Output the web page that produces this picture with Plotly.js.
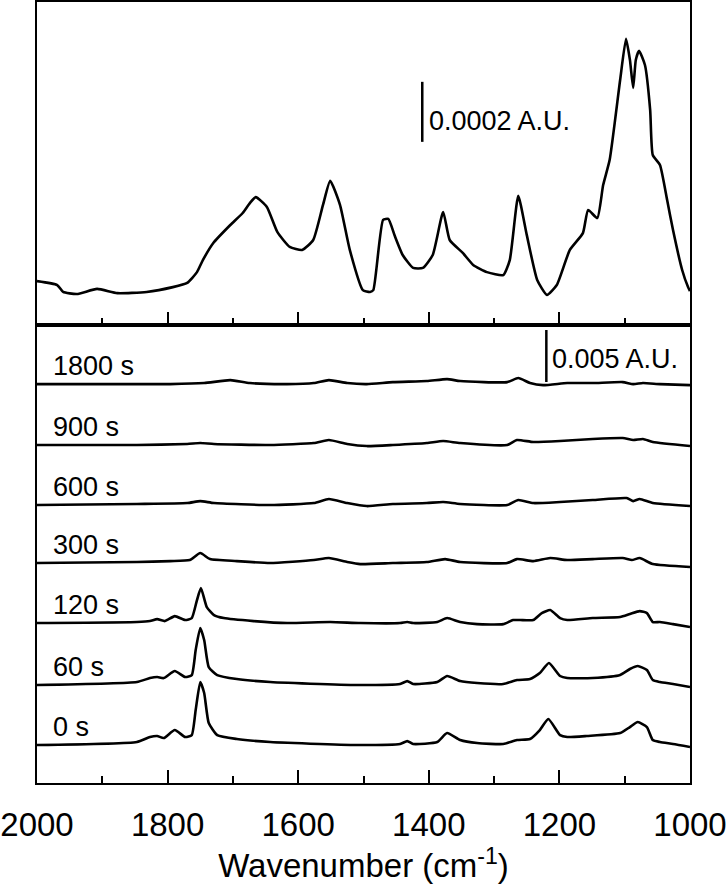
<!DOCTYPE html>
<html>
<head>
<meta charset="utf-8">
<script src="https://cdn.plot.ly/plotly-3.0.1.min.js"></script>
<style>
  html, body { margin: 0; padding: 0; background: #fff; }
  #chart { width: 727px; height: 886px; }
</style>
</head>
<body>
<div id="chart"></div>
<script>
// ---------- Top panel: single spectrum (units of 1e-4 A.U.) ----------
const topWn = [2000,1969,1960,1939,1908,1877,1832,1792,1770,1755,1746,1730,1704,1685,1674,1665,1648,1632,1613,1594,1577,1562,1551,1536,1521,1501,1490,1485,1470,1462,1452,1440,1424,1409,1394,1378,1368,1348,1332,1311,1286,1276,1263,1250,1234,1219,1204,1184,1164,1156,1142,1133,1123,1107,1098,1092,1087,1083,1078,1069,1061,1057,1046,1035,1026,1012,1003,1000];
const topAbs = [0.63,0.50,0.27,0.20,0.37,0.23,0.27,0.43,0.57,0.93,1.33,1.90,2.50,2.90,3.23,3.43,3.10,2.27,1.77,1.67,2.00,3.17,3.97,3.17,1.67,0.33,0.27,0.33,2.67,2.70,2.13,1.50,1.07,1.07,1.50,2.93,2.00,1.57,1.17,0.93,0.83,1.33,3.47,2.17,0.67,0.17,0.50,1.67,2.23,3.00,2.73,3.83,4.67,7.33,8.70,8.00,7.07,8.00,8.30,7.83,6.33,4.83,4.50,3.33,2.33,1.00,0.43,0.30];

// ---------- Bottom panel: time series (units of mA.U., relative to own baseline) ----------
const timeLabels = ["0 s","60 s","120 s","300 s","600 s","900 s","1800 s"];
const offsets = [3.65, 9.42, 15.38, 21.15, 26.73, 32.50, 38.36];

const s0Wn = [2000,1847,1827,1816,1806,1789,1773,1763,1757,1750,1744,1737,1724,1694,1643,1567,1505,1444,1433,1424,1387,1372,1352,1326,1286,1265,1245,1230,1217,1199,1188,1158,1107,1092,1080,1066,1057,1046,1026,1000];
const s0   = [0,0.29,0.77,0.87,0.67,1.44,0.77,0.96,3.37,6.06,5.00,2.12,0.96,0.58,0.29,0.10,0,0.10,0.38,0.10,0.29,1.15,0.48,0.19,0.10,0.48,0.58,1.44,2.50,0.96,0.77,0.87,1.15,1.73,2.21,1.73,0.48,0.29,0.10,-0.19];

const s60Wn = [2000,1847,1827,1816,1806,1789,1773,1763,1757,1750,1744,1737,1724,1694,1643,1567,1505,1444,1433,1424,1387,1372,1352,1326,1286,1265,1245,1230,1216,1199,1188,1149,1107,1092,1080,1066,1057,1046,1026,1000];
const s60   = [0,0.29,0.67,0.77,0.67,1.35,0.77,0.96,3.37,5.48,4.33,1.73,0.96,0.58,0.29,0.10,0,0.10,0.38,0.10,0.29,0.87,0.38,0.19,0.10,0.48,0.58,1.15,2.12,0.87,0.67,0.67,0.96,1.54,1.83,1.44,0.48,0.29,0.10,-0.19];

const s120Wn = [2000,1847,1827,1816,1804,1789,1773,1763,1755,1749,1740,1729,1714,1668,1617,1551,1505,1444,1433,1424,1387,1372,1352,1326,1286,1271,1260,1240,1227,1214,1199,1188,1149,1107,1092,1077,1066,1057,1046,1026,1000];
const s120   = [0,0.10,0.19,0.38,0.19,0.67,0.29,0.48,2.21,3.37,1.54,0.77,0.48,0.19,0,0.10,0,0,0.10,0,0.10,0.48,0.10,-0.10,-0.10,0.29,0.29,0.29,0.96,1.25,0.48,0.29,0.48,0.58,0.87,1.15,0.96,0.10,0.10,-0.10,-0.38];

const s300Wn = [2000,1847,1796,1766,1750,1735,1694,1643,1576,1553,1525,1505,1455,1403,1375,1352,1280,1265,1240,1214,1188,1149,1103,1089,1077,1057,1000];
const s300   = [0,0.10,0.19,0.29,0.96,0.38,0.19,0,0.29,0.48,0.10,-0.10,0,0.10,0.38,0.10,0,0.38,0.19,0.48,0.29,0.38,0.48,0.29,0.48,-0.10,-0.38];

const s600Wn = [2000,1847,1770,1750,1729,1643,1576,1553,1525,1495,1455,1403,1378,1352,1280,1263,1240,1199,1149,1097,1087,1077,1057,1000];
const s600   = [0,0.10,0.19,0.38,0.19,0,0.19,0.58,0.19,-0.10,0.10,0.19,0.29,0.10,0,0.48,0.19,0.29,0.48,0.67,0.38,0.58,0.19,-0.10];

const s900Wn = [2000,1847,1770,1750,1729,1643,1576,1553,1525,1495,1455,1403,1378,1352,1280,1265,1240,1199,1149,1103,1087,1072,1057,1000];
const s900   = [0,0,0.10,0.19,0.10,0,0.19,0.48,0.10,-0.10,0,0.19,0.38,0.19,0,0.48,0.29,0.38,0.58,0.67,0.48,0.58,0.29,-0.10];

const s1800Wn = [2000,1796,1744,1704,1674,1617,1576,1553,1525,1495,1455,1403,1372,1352,1280,1263,1245,1225,1188,1149,1103,1087,1072,1046,1000];
const s1800   = [0,0,0.10,0.38,0.10,0,0.10,0.38,0.10,0,0.19,0.29,0.48,0.29,0.19,0.58,0.10,-0.10,0.10,0.10,0.19,0,0.10,0,-0.10];

const bottomWn  = [s0Wn, s60Wn, s120Wn, s300Wn, s600Wn, s900Wn, s1800Wn];
const bottomAbs = [s0, s60, s120, s300, s600, s900, s1800];

// scale bars
const topBar = {wn: 1410, start: 5.27, len: 2, label: "0.0002 A.U."};
const botBar = {wn: 1220, start: 38.56, len: 5, label: "0.005 A.U."};

const FONT = "Liberation Sans, Arial, sans-serif";
const lineStyle = {color: "#000", width: 2.6, shape: "spline", smoothing: 0.5};

const traces = [];
traces.push({x: topWn, y: topAbs, xaxis: "x", yaxis: "y", mode: "lines", line: lineStyle, hoverinfo: "skip"});
bottomWn.forEach((wn, i) => {
  traces.push({
    x: wn,
    y: bottomAbs[i].map(v => v + offsets[i]),
    xaxis: "x2", yaxis: "y2", mode: "lines", line: lineStyle, hoverinfo: "skip"
  });
});

const annotations = timeLabels.map((t, i) => ({
  x: 1978, y: offsets[i] + 1.7, xref: "x2", yref: "y2",
  text: t, showarrow: false, xanchor: "left", yanchor: "middle",
  font: {family: FONT, size: 27, color: "#000"}
}));
annotations.push({
  x: topBar.wn - 8, y: topBar.start + topBar.len / 2 - 0.3, xref: "x", yref: "y",
  text: topBar.label, showarrow: false, xanchor: "left", yanchor: "middle",
  font: {family: FONT, size: 27, color: "#000"}
});
annotations.push({
  x: botBar.wn - 6, y: botBar.start + botBar.len / 2 - 0.3, xref: "x2", yref: "y2",
  text: botBar.label, showarrow: false, xanchor: "left", yanchor: "middle",
  font: {family: FONT, size: 27, color: "#000"}
});

const shapes = [
  {type: "line", xref: "x", yref: "y", x0: topBar.wn, x1: topBar.wn, y0: topBar.start, y1: topBar.start + topBar.len, line: {color: "#000", width: 2.5}},
  {type: "line", xref: "x2", yref: "y2", x0: botBar.wn, x1: botBar.wn, y0: botBar.start, y1: botBar.start + botBar.len, line: {color: "#000", width: 2.5}}
];

const xCommon = {
  range: [2000, 1000], autorange: false,
  showline: true, linecolor: "#000", linewidth: 2, mirror: true,
  ticks: "inside", tickcolor: "#000", tickwidth: 2, ticklen: 13,
  tick0: 2000, dtick: 200,
  minor: {ticks: "inside", dtick: 100, tick0: 2000, ticklen: 7, tickwidth: 2, tickcolor: "#000", showgrid: false},
  showgrid: false, zeroline: false
};

const layout = {
  width: 727, height: 886,
  margin: {l: 37, r: 37, t: 2, b: 103},
  paper_bgcolor: "#fff", plot_bgcolor: "#fff",
  showlegend: false,
  font: {family: FONT, color: "#000"},
  xaxis: Object.assign({}, xCommon, {anchor: "y", showticklabels: false, matches: "x2"}),
  yaxis: {domain: [0.5864, 1], range: [-0.833, 9.93], autorange: false, showline: true, linecolor: "#000", linewidth: 2, mirror: true, ticks: "", showticklabels: false, showgrid: false, zeroline: false},
  xaxis2: Object.assign({}, xCommon, {
    anchor: "y2",
    showticklabels: true,
    ticklabelstandoff: 11,
    tickfont: {family: FONT, size: 33, color: "#000"},
    title: {text: "Wavenumber (cm<sup>-1</sup>)", font: {family: FONT, size: 33, color: "#000"}, standoff: 11}
  }),
  yaxis2: {domain: [0, 0.5864], range: [0, 44.04], autorange: false, showline: true, linecolor: "#000", linewidth: 2, mirror: true, ticks: "", showticklabels: false, showgrid: false, zeroline: false},
  annotations: annotations,
  shapes: shapes
};

Plotly.newPlot("chart", traces, layout, {staticPlot: true, displayModeBar: false});
</script>
</body>
</html>
